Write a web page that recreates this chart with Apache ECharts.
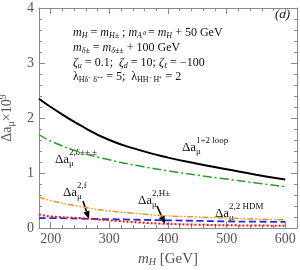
<!DOCTYPE html>
<html><head><meta charset="utf-8">
<script src="https://cdn.jsdelivr.net/npm/echarts@6/dist/echarts.min.js"></script>
<style>html,body{margin:0;padding:0;background:#fff}#c{width:300px;height:270px}</style>
</head><body><div id="c"></div>
<script>
const mH = [180,200,250,300,350,400,450,500,550,600];
const loop12 = [2.35,2.20,1.87,1.60,1.42,1.28,1.17,1.07,0.97,0.88];
const delta2 = [1.70,1.58,1.38,1.24,1.13,1.04,0.96,0.89,0.82,0.75];
const hdm2 = [0.56,0.50,0.39,0.31,0.26,0.22,0.20,0.18,0.16,0.15];
const hpm2 = [0.18,0.18,0.17,0.16,0.15,0.14,0.13,0.12,0.115,0.11];
const f2 = [0.25,0.21,0.18,0.14,0.10,0.075,0.06,0.05,0.045,0.04];
const xMajor = [200,300,400,500,600];
const yTicks = [0,1,2,3,4];

const SERIF = 'Liberation Serif';
const AX = '#8a8a8a', LBL = '#555';
const pts = a => mH.map((m,i)=>[m,a[i]]);

function xAxisBase(pos, major, labels){
  return {type:'value', min:180, max:620, position:pos,
    axisLine:{show:major, lineStyle:{color:AX,width:1}},
    axisTick:major?{show:true,inside:true,length:6,customValues:xMajor,lineStyle:{color:AX}}
                  :{show:true,inside:true,length:3,lineStyle:{color:AX}},
    interval: major?undefined:20,
    axisLabel:labels?{show:true,customValues:xMajor,color:LBL,fontFamily:SERIF,fontSize:14,margin:4}:{show:false},
    splitLine:{show:false}};
}
function yAxisBase(pos, labels){
  return {type:'value', min:0, max:4, interval:1, position:pos,
    axisLine:{show:true,lineStyle:{color:AX,width:1}},
    axisTick:{show:true,inside:true,length:6,lineStyle:{color:AX}},
    minorTick:{show:true,splitNumber:5,length:3,lineStyle:{color:AX}},
    axisLabel:labels?{show:true,color:LBL,fontFamily:SERIF,fontSize:14,margin:5}:{show:false},
    splitLine:{show:false}};
}
const xa0 = xAxisBase('bottom',true,true);
xa0.name = '{i|m}{s|H} [GeV]';
xa0.nameLocation='middle'; xa0.nameGap=23;
xa0.nameTextStyle={fontFamily:SERIF,fontSize:15,color:LBL,rich:{
  i:{fontFamily:SERIF,fontStyle:'italic',fontSize:15,color:LBL},
  s:{fontFamily:SERIF,fontStyle:'italic',fontSize:10,color:LBL,verticalAlign:'bottom',padding:[6,0,0,0]}}};
const ya0 = yAxisBase('left',true);
ya0.name='Δa{s|μ}×10{p|9}'; ya0.nameLocation='middle'; ya0.nameGap=20; ya0.nameRotate=90;
ya0.nameTextStyle={fontFamily:SERIF,fontSize:14,color:LBL,rich:{
  s:{fontFamily:SERIF,fontSize:10,color:LBL,padding:[7,0,0,0]},
  p:{fontFamily:SERIF,fontSize:10,color:LBL,padding:[0,0,8,0]}}};

const chart = echarts.init(document.getElementById('c'),null,{renderer:'canvas'});
const ser = (name,data,color,width,type)=>({name,type:'line',data:pts(data),smooth:true,showSymbol:false,
  xAxisIndex:0,yAxisIndex:0,lineStyle:{color,width,type,cap:'butt'},z:3,animation:false});

function curveLabel(x,y,sup){
  return {type:'group',children:[
    {type:'text',x:x,y:y,style:{text:'Δa',font:'13px "Liberation Serif"',fill:'#111',verticalAlign:'middle'}},
    {type:'text',x:x+14,y:y+4,style:{text:'μ',font:'9px "Liberation Serif"',fill:'#111',verticalAlign:'middle'}},
    {type:'text',x:x+14,y:y-7,style:{text:sup,font:'9px "Liberation Serif"',fill:'#111',verticalAlign:'middle'}}
  ]};
}
function arrow(x1,y1,x2,y2){
  const dx=x2-x1, dy=y2-y1, L=Math.hypot(dx,dy), ux=dx/L, uy=dy/L, hl=8, hw=3.2;
  const bx=x2-ux*hl, by=y2-uy*hl;
  return {type:'group',children:[
    {type:'line',shape:{x1,y1,x2:bx,y2:by},style:{stroke:'#000',lineWidth:1.6}},
    {type:'polygon',shape:{points:[[x2,y2],[bx-uy*hw,by+ux*hw],[bx+uy*hw,by-ux*hw]]},style:{fill:'#000'}}
  ]};
}
const richBlock = {
  i:{fontFamily:SERIF,fontStyle:'italic',fontSize:12,fill:'#111'},
  n:{fontFamily:SERIF,fontSize:12,fill:'#111'},
  s:{fontFamily:SERIF,fontStyle:'italic',fontSize:8,fill:'#111',padding:[6,0,0,0]},
  r:{fontFamily:SERIF,fontSize:8,fill:'#111',padding:[6,0,0,0]}
};
function blockLine(y,text){
  return {type:'text',x:73,y:y,style:{text,rich:richBlock,font:'12px "Liberation Serif"',fill:'#111',verticalAlign:'middle'}};
}

chart.setOption({
  animation:false,
  grid:{left:39,right:3,top:8,bottom:42,containLabel:false,outerBoundsMode:'none'},
  xAxis:[xa0, xAxisBase('bottom',false,false), xAxisBase('top',true,false), xAxisBase('top',false,false)],
  yAxis:[ya0, yAxisBase('right',false)],
  series:[
    ser('1+2 loop',loop12,'#000',2,'solid'),
    ser('2,delta',delta2,'#22a022',1.5,[9,3,2,3]),
    ser('2,2HDM',hdm2,'#ff8c1a',1.5,[6,2,1.5,2,1.5,2]),
    ser('2,Hpm',hpm2,'#1f2fe0',1.8,[7,3.5]),
    ser('2,f',f2,'#ee1111',2,[2,2])
  ],
  graphic:[
    blockLine(33,'{i|m}{s|H}{n| = }{i|m}{s|H±}{n| ; }{i|m}{s|A⁰}{n| = }{i|m}{s|H}{n| + 50 GeV}'),
    blockLine(48,'{i|m}{s|δ±}{n| = }{i|m}{s|δ±±}{n| + 100 GeV}'),
    blockLine(63,'{i|ζ}{s|u}{n| = 0.1;  }{i|ζ}{s|d}{n| = 10; }{i|ζ}{s|ℓ}{n| = −100}'),
    blockLine(77,'{n|λ}{r|Hδ⁻ δ⁺⁺}{n| = 5;  λ}{r|HH⁻ H⁺}{n| = 2}'),
    {type:'text',x:275,y:15,style:{text:'(a)',font:'italic 13px "Liberation Serif"',fill:'#111',verticalAlign:'middle'}},
    curveLabel(182,148,'1+2 loop'),
    curveLabel(55,160,'2,δ±±,±'),
    curveLabel(63,193,'2,f'),
    curveLabel(138,201,'2,H±'),
    curveLabel(215,214,'2,2 HDM'),
    arrow(83,201,89,219),
    arrow(157,206,165,224)
  ]
});
</script></body></html>
